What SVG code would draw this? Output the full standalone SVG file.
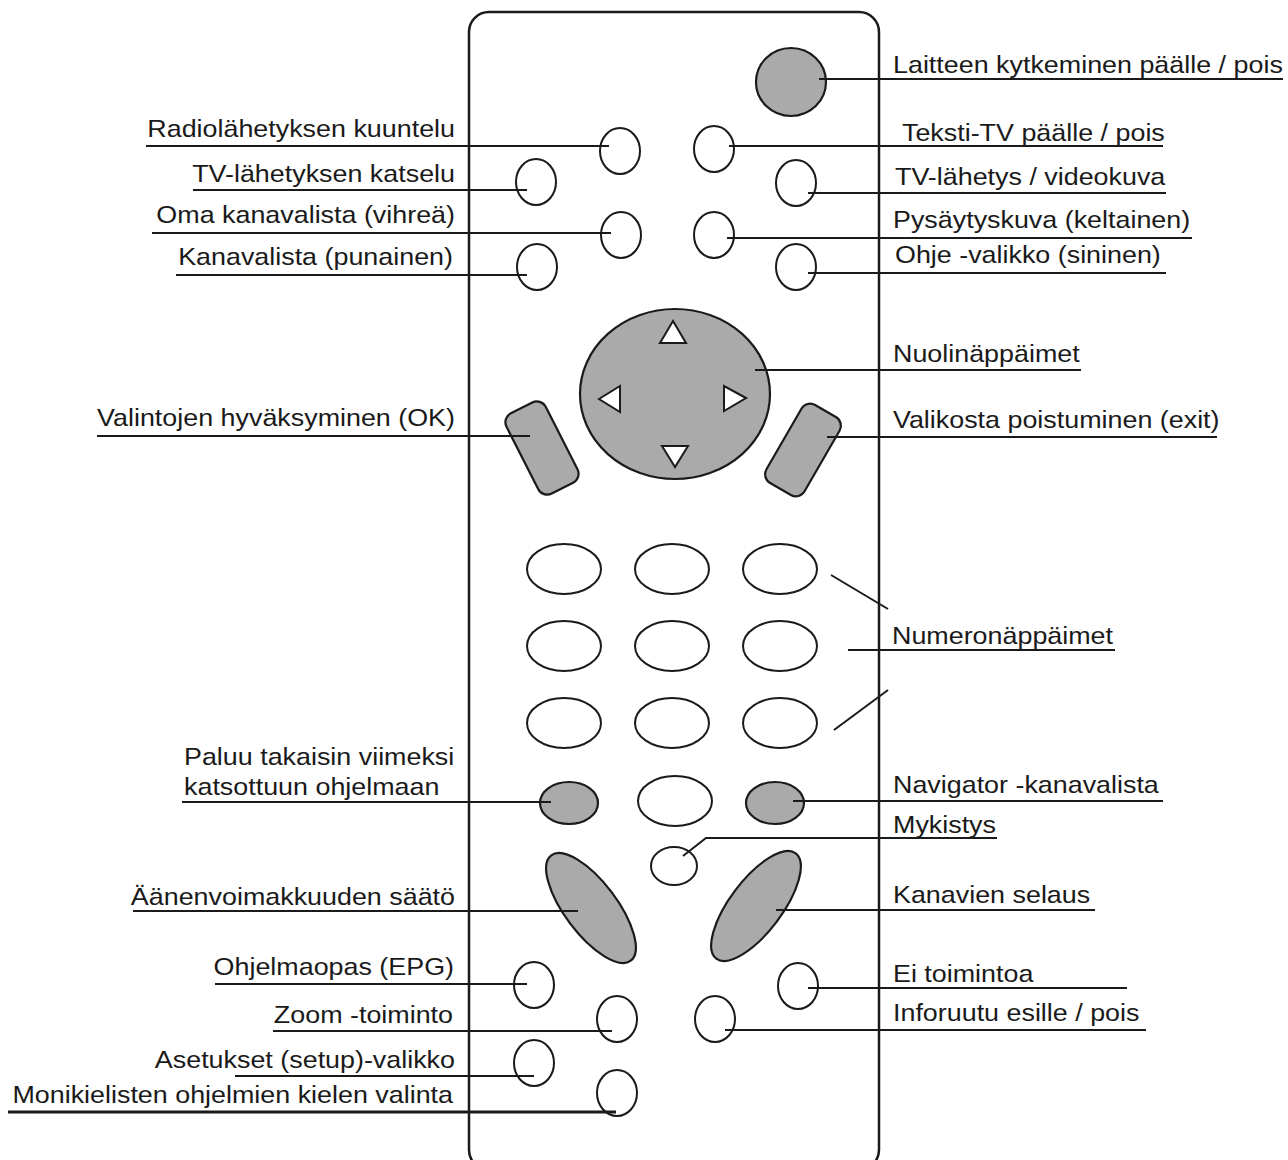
<svg xmlns="http://www.w3.org/2000/svg" width="1288" height="1160" viewBox="0 0 1288 1160">
<style>
.body{fill:#fff;stroke:#1a1a1a;stroke-width:2.5}
.btn{fill:#fff;stroke:#1a1a1a;stroke-width:2}
.btng{fill:#aaaaaa;stroke:#1a1a1a;stroke-width:2.2}
.tri{fill:#fff;stroke:#1a1a1a;stroke-width:2;stroke-linejoin:miter}
.ln{fill:none;stroke:#1a1a1a;stroke-width:2}
.lbl{font-family:"Liberation Sans",Arial,sans-serif;font-size:24px;fill:#1a1a1a}
.e{text-anchor:end}
</style>
<rect fill="#fff" x="0" y="0" width="1288" height="1160"/>
<g id="remote-body"><rect class="body" x="469" y="12" width="410" height="1158" rx="20"/></g>

<g id="btn-power"><ellipse class="btng" cx="791" cy="82" rx="35" ry="34"/></g>
<g id="btn-radio"><ellipse class="btn" cx="620" cy="151" rx="20" ry="23"/></g>
<g id="btn-teletext"><ellipse class="btn" cx="714" cy="149" rx="20" ry="23"/></g>
<g id="btn-tv"><ellipse class="btn" cx="536" cy="182" rx="20" ry="23"/></g>
<g id="btn-tvvideo"><ellipse class="btn" cx="796" cy="183" rx="20" ry="23"/></g>
<g id="btn-green"><ellipse class="btn" cx="621" cy="235" rx="20" ry="23"/></g>
<g id="btn-yellow"><ellipse class="btn" cx="714" cy="235" rx="20" ry="23"/></g>
<g id="btn-red"><ellipse class="btn" cx="537" cy="267" rx="20" ry="23"/></g>
<g id="btn-blue"><ellipse class="btn" cx="796" cy="267" rx="20" ry="23"/></g>

<g id="btn-nav">
<ellipse class="btng" cx="675" cy="394" rx="95" ry="85"/>
<polygon class="tri" points="673,321 660,343 686,343"/>
<polygon class="tri" points="599,399 620,386 620,412"/>
<polygon class="tri" points="746,398 724,386 724,411"/>
<polygon class="tri" points="675,467 662,446 688,446"/>
</g>
<g id="btn-ok"><rect class="btng" x="-22" y="-45" width="44" height="90" rx="10" transform="translate(542 448) rotate(-27)"/></g>
<g id="btn-exit"><rect class="btng" x="-22" y="-45" width="44" height="90" rx="10" transform="translate(803 450) rotate(30)"/></g>

<g id="numpad">
<ellipse class="btn" cx="564" cy="569" rx="37" ry="25"/>
<ellipse class="btn" cx="672" cy="569" rx="37" ry="25"/>
<ellipse class="btn" cx="780" cy="569" rx="37" ry="25"/>
<ellipse class="btn" cx="564" cy="646" rx="37" ry="25"/>
<ellipse class="btn" cx="672" cy="646" rx="37" ry="25"/>
<ellipse class="btn" cx="780" cy="646" rx="37" ry="25"/>
<ellipse class="btn" cx="564" cy="723" rx="37" ry="25"/>
<ellipse class="btn" cx="672" cy="723" rx="37" ry="25"/>
<ellipse class="btn" cx="780" cy="723" rx="37" ry="25"/>
<ellipse class="btn" cx="675" cy="801" rx="37" ry="25"/>
</g>
<g id="btn-back"><ellipse class="btng" cx="569" cy="803" rx="29" ry="21"/></g>
<g id="btn-navigator"><ellipse class="btng" cx="775" cy="803" rx="29" ry="21"/></g>
<g id="btn-mute"><ellipse class="btn" cx="674" cy="866" rx="23" ry="19"/></g>
<g id="btn-volume"><ellipse class="btng" cx="591" cy="908" rx="66" ry="26" transform="rotate(53 591 908)"/></g>
<g id="btn-channel"><ellipse class="btng" cx="756" cy="906" rx="66" ry="26" transform="rotate(-53 756 906)"/></g>
<g id="btn-epg"><ellipse class="btn" cx="534" cy="985" rx="20" ry="23"/></g>
<g id="btn-none"><ellipse class="btn" cx="798" cy="986" rx="20" ry="23"/></g>
<g id="btn-zoom"><ellipse class="btn" cx="617" cy="1019" rx="20" ry="23"/></g>
<g id="btn-info"><ellipse class="btn" cx="715" cy="1019" rx="20" ry="23"/></g>
<g id="btn-setup"><ellipse class="btn" cx="534" cy="1063" rx="20" ry="23"/></g>
<g id="btn-lang"><ellipse class="btn" cx="617" cy="1093" rx="20" ry="23"/></g>

<g id="connectors">
<line class="ln" x1="819" y1="79" x2="1283" y2="79"/>
<line class="ln" x1="146" y1="146" x2="609" y2="146"/>
<line class="ln" x1="729" y1="146" x2="1163" y2="146"/>
<line class="ln" x1="193" y1="190" x2="527" y2="190"/>
<line class="ln" x1="808" y1="193" x2="1166" y2="193"/>
<line class="ln" x1="152" y1="233" x2="611" y2="233"/>
<line class="ln" x1="727" y1="238" x2="1192" y2="238"/>
<line class="ln" x1="176" y1="275" x2="527" y2="275"/>
<line class="ln" x1="808" y1="273" x2="1166" y2="273"/>
<line class="ln" x1="755" y1="370" x2="1081" y2="370"/>
<line class="ln" x1="97" y1="436" x2="530" y2="436"/>
<line class="ln" x1="827" y1="437" x2="1217" y2="437"/>
<line class="ln" x1="831" y1="575" x2="888" y2="609"/>
<line class="ln" x1="848" y1="650" x2="1115" y2="650"/>
<line class="ln" x1="834" y1="730" x2="888" y2="690"/>
<line class="ln" x1="182" y1="802" x2="551" y2="802"/>
<line class="ln" x1="793" y1="801" x2="1163" y2="801"/>
<polyline class="ln" points="683,856 706,838 997,838"/>
<line class="ln" x1="133" y1="911" x2="578" y2="911"/>
<line class="ln" x1="776" y1="910" x2="1095" y2="910"/>
<line class="ln" x1="215" y1="984" x2="527" y2="984"/>
<line class="ln" x1="808" y1="988" x2="1127" y2="988"/>
<line class="ln" x1="273" y1="1031" x2="612" y2="1031"/>
<line class="ln" x1="725" y1="1030" x2="1146" y2="1030"/>
<line class="ln" x1="235" y1="1076" x2="534" y2="1076"/>
<line class="ln" x1="8" y1="1112" x2="616" y2="1112" style="stroke-width:3"/>
</g>

<g id="labels">
<text class="lbl e" transform="translate(455 137) scale(1.12 1)">Radiolähetyksen kuuntelu</text>
<text class="lbl e" transform="translate(455 182) scale(1.12 1)">TV-lähetyksen katselu</text>
<text class="lbl e" transform="translate(455 223) scale(1.12 1)">Oma kanavalista (vihreä)</text>
<text class="lbl e" transform="translate(453 265) scale(1.12 1)">Kanavalista (punainen)</text>
<text class="lbl e" transform="translate(455 426) scale(1.12 1)">Valintojen hyväksyminen (OK)</text>
<text class="lbl" transform="translate(184 765) scale(1.12 1)">Paluu takaisin viimeksi</text>
<text class="lbl" transform="translate(184 795) scale(1.12 1)">katsottuun ohjelmaan</text>
<text class="lbl e" transform="translate(455 905) scale(1.12 1)">Äänenvoimakkuuden säätö</text>
<text class="lbl e" transform="translate(454 975) scale(1.12 1)">Ohjelmaopas (EPG)</text>
<text class="lbl e" transform="translate(453 1023) scale(1.12 1)">Zoom -toiminto</text>
<text class="lbl e" transform="translate(455 1068) scale(1.12 1)">Asetukset (setup)-valikko</text>
<text class="lbl e" transform="translate(453 1103) scale(1.12 1)">Monikielisten ohjelmien kielen valinta</text>

<text class="lbl" transform="translate(893 73) scale(1.12 1)">Laitteen kytkeminen päälle / pois</text>
<text class="lbl" transform="translate(902 141) scale(1.12 1)">Teksti-TV päälle / pois</text>
<text class="lbl" transform="translate(895 185) scale(1.12 1)">TV-lähetys / videokuva</text>
<text class="lbl" transform="translate(893 228) scale(1.12 1)">Pysäytyskuva (keltainen)</text>
<text class="lbl" transform="translate(895 263) scale(1.12 1)">Ohje -valikko (sininen)</text>
<text class="lbl" transform="translate(893 362) scale(1.12 1)">Nuolinäppäimet</text>
<text class="lbl" transform="translate(893 428) scale(1.12 1)">Valikosta poistuminen (exit)</text>
<text class="lbl" transform="translate(892 644) scale(1.12 1)">Numeronäppäimet</text>
<text class="lbl" transform="translate(893 793) scale(1.12 1)">Navigator -kanavalista</text>
<text class="lbl" transform="translate(893 833) scale(1.12 1)">Mykistys</text>
<text class="lbl" transform="translate(893 903) scale(1.12 1)">Kanavien selaus</text>
<text class="lbl" transform="translate(893 982) scale(1.12 1)">Ei toimintoa</text>
<text class="lbl" transform="translate(893 1021) scale(1.12 1)">Inforuutu esille / pois</text>
</g>
</svg>
